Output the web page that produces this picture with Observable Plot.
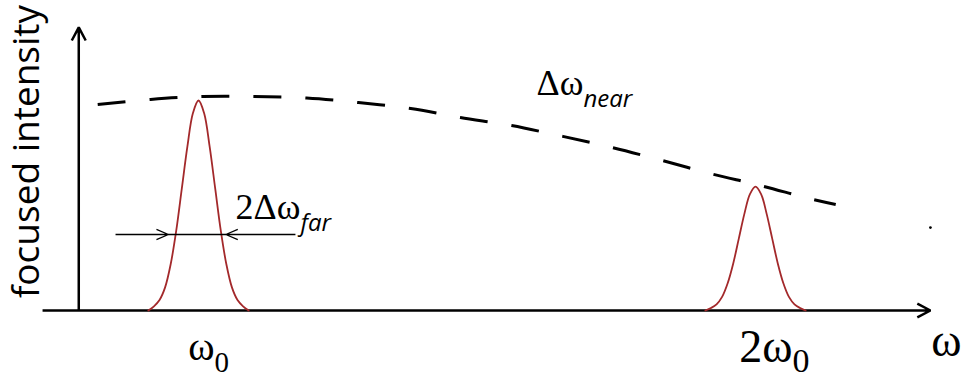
<!DOCTYPE html>
<html>
<head>
<meta charset="utf-8">
<script src="https://cdn.jsdelivr.net/npm/d3@7"></script>
<script src="https://cdn.jsdelivr.net/npm/@observablehq/plot@0.6"></script>
<style>
  html, body { margin: 0; padding: 0; background: #ffffff; }
  #chart svg { display: block; }
</style>
</head>
<body>
<div id="chart"></div>
<script>
// ---- data (ω in units of ω0, intensity relative to the ω0 peak) ----
const peakCenters = [1, 2];            // ω0, 2ω0
const peakHeights = [1.0, 0.59];
const profileOffset = [-0.09, -0.08, -0.07, -0.06, -0.05, -0.04, -0.03, -0.02, -0.01, 0,
                        0.01, 0.02, 0.03, 0.04, 0.05, 0.06, 0.07, 0.08, 0.09];
const profileShape  = [0, 0.02, 0.05, 0.11, 0.22, 0.38, 0.58, 0.78, 0.94, 1,
                        0.94, 0.78, 0.58, 0.38, 0.22, 0.11, 0.05, 0.02, 0];

const envelopeOmega = [0.819, 0.914, 1.007, 1.099, 1.194, 1.287, 1.381, 1.470,
                       1.562, 1.654, 1.743, 1.833, 1.919, 2.009, 2.097, 2.144];
const envelopeIntensity = [0.981, 1.005, 1.019, 1.019, 1.012, 0.990, 0.962, 0.919,
                           0.881, 0.829, 0.776, 0.714, 0.652, 0.595, 0.533, 0.505];
const strayMark = [{omega: 2.314, I: 0.395}];

const axisX = {from: 0.720, to: 2.314};   // ω axis extent
const axisYAt = 0.785;                      // ω where the intensity axis stands
const axisYTop = 1.348;

const widthMarker = {I: 0.362, outerLeft: 0.851, left: 0.946, right: 1.049, outerRight: 1.174};

const tickMain = ["ω", "2ω"];
const tickSub = ["0", "0"];
const annotations = [
  {main: "2Δω", sub: "far",  omega: 1.183, I: 0.438},
  {main: "Δω",  sub: "near", omega: 1.691, I: 1.024}
];
const yLabel = "focused intensity";
const xLabel = "ω";

// ---- derived tables ----
const peaks = peakCenters.flatMap((c, i) =>
  profileOffset.map((o, j) => ({omega: c + o, I: peakHeights[i] * profileShape[j], peak: i})));
const envelope = envelopeOmega.map((w, i) => ({omega: w, I: envelopeIntensity[i]}));
const ticks = peakCenters.map((c, i) => ({omega: c, main: tickMain[i], sub: tickSub[i]}));

const serif = "'Liberation Serif', 'DejaVu Serif', serif";
const sans = "'Open Sans', 'Noto Sans', sans-serif";

// per-label styling for the tick labels (main text end / subscript start, baselines from bottom)
const tickStyle = [
  {mainSize: 40, subSize: 29, dx: 16, mainDy: -20, subDy: -8},
  {mainSize: 46, subSize: 34, dx: 37, mainDy: -18, subDy: -8}
];

const tickMarks = ticks.flatMap((t, i) => [
  Plot.text([t], {x: "omega", text: "main", frameAnchor: "bottom", lineAnchor: "bottom",
    textAnchor: "end", fontFamily: serif, fill: "black", fontSize: tickStyle[i].mainSize,
    dx: tickStyle[i].dx, dy: tickStyle[i].mainDy}),
  Plot.text([t], {x: "omega", text: "sub", frameAnchor: "bottom", lineAnchor: "bottom",
    textAnchor: "start", fontFamily: serif, fill: "black", fontSize: tickStyle[i].subSize,
    dx: tickStyle[i].dx, dy: tickStyle[i].subDy})
]);

const chart = Plot.plot({
  width: 964,
  height: 379,
  margin: 0,
  x: {domain: [0.6445, 2.3752], axis: null},
  y: {domain: [-0.3286, 1.4762], axis: null},
  marks: [
    // axes
    Plot.arrow([
      {x1: axisX.from, y1: 0, x2: axisX.to, y2: 0},
      {x1: axisYAt, y1: 0, x2: axisYAt, y2: axisYTop}
    ], {x1: "x1", y1: "y1", x2: "x2", y2: "y2", stroke: "black", strokeWidth: 2.5,
        headLength: 8.9, headAngle: 56, strokeLinecap: "butt", strokeLinejoin: "miter"}),
    // envelope (dashed)
    Plot.line(envelope, {x: "omega", y: "I", stroke: "black", strokeWidth: 3,
      strokeDasharray: "28,24", curve: "catmull-rom", strokeLinecap: "butt"}),
    Plot.dot(strayMark, {x: "omega", y: "I", r: 1.4, fill: "black", stroke: null}),
    // peaks
    Plot.line(peaks, {x: "omega", y: "I", z: "peak", stroke: "#a3292b", strokeWidth: 1.8,
      curve: "catmull-rom"}),
    // width marker
    Plot.line([{x: widthMarker.left, y: widthMarker.I}, {x: widthMarker.right, y: widthMarker.I}],
      {x: "x", y: "y", stroke: "black", strokeWidth: 1.3}),
    Plot.arrow([
      {x1: widthMarker.outerLeft, x2: widthMarker.left},
      {x1: widthMarker.outerRight, x2: widthMarker.right}
    ], {x1: "x1", x2: "x2", y1: () => widthMarker.I, y2: () => widthMarker.I,
        stroke: "black", strokeWidth: 1.3, headLength: 15, headAngle: 46,
        strokeLinecap: "butt"}),
    ...tickMarks,
    // axis label ω
    Plot.text([xLabel], {frameAnchor: "bottom-right", lineAnchor: "bottom", textAnchor: "end",
      dx: -3, dy: -24, fontFamily: serif, fontSize: 46, fill: "black"}),
    // annotations
    Plot.text(annotations, {x: "omega", y: "I", text: "main", lineAnchor: "bottom",
      textAnchor: "end", fontFamily: serif, fontSize: 36, fill: "black"}),
    Plot.text(annotations, {x: "omega", y: "I", text: "sub", lineAnchor: "bottom",
      textAnchor: "start", dy: 12, fontFamily: sans, fontStyle: "italic", fontSize: 24, fill: "black"}),
    // y label
    Plot.text([yLabel], {x: () => 0.693, y: () => 0.757, rotate: -90, textAnchor: "middle",
      lineAnchor: "middle", fontFamily: sans, fontSize: 37, fill: "black"})
  ]
});

document.getElementById("chart").appendChild(chart);
</script>
</body>
</html>
